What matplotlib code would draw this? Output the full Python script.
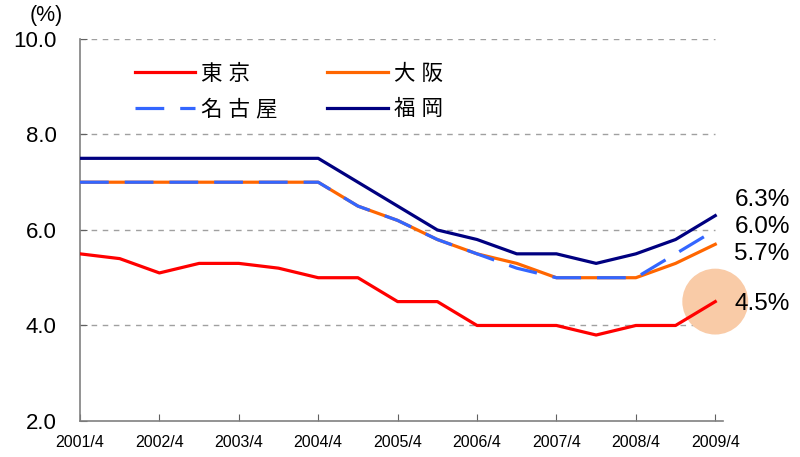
import matplotlib
matplotlib.use("Agg")
import matplotlib.pyplot as plt

plt.rcParams['font.family'] = ['Liberation Sans', 'Noto Sans CJK JP', 'DejaVu Sans']

# half-year points from 2001/4 to 2009/4
periods = list(range(17))
year_ticks = list(range(0, 17, 2))
year_labels = ['2001/4', '2002/4', '2003/4', '2004/4', '2005/4',
               '2006/4', '2007/4', '2008/4', '2009/4']

tokyo = [5.5, 5.4, 5.1, 5.3, 5.3, 5.2, 5.0, 5.0, 4.5, 4.5, 4.0, 4.0, 4.0, 3.8, 4.0, 4.0, 4.5]
osaka = [7.0, 7.0, 7.0, 7.0, 7.0, 7.0, 7.0, 6.5, 6.2, 5.8, 5.5, 5.3, 5.0, 5.0, 5.0, 5.3, 5.7]
nagoya = [7.0, 7.0, 7.0, 7.0, 7.0, 7.0, 7.0, 6.5, 6.2, 5.8, 5.5, 5.2, 5.0, 5.0, 5.0, 5.5, 6.0]
fukuoka = [7.5, 7.5, 7.5, 7.5, 7.5, 7.5, 7.5, 7.0, 6.5, 6.0, 5.8, 5.5, 5.5, 5.3, 5.5, 5.8, 6.3]

fig = plt.figure(figsize=(8, 4.57), dpi=100)
ax = fig.add_axes([0.1, 0.0788, 0.804, 0.836])

# dashed horizontal guides
for v in [4, 6, 8, 10]:
    ax.hlines(v, 0, 16, colors='#a0a0a0', linestyles=(0, (4, 4)), linewidth=1.0, zorder=1)

# highlight behind the last Tokyo value
ax.scatter([16], [tokyo[-1]], s=2250, color='#f9cba7', edgecolors='none',
           zorder=2, clip_on=False)

l_tokyo, = ax.plot(periods, tokyo, color='#ff0000', lw=2.3, zorder=4)
l_fukuoka, = ax.plot(periods, fukuoka, color='#000080', lw=2.3, zorder=4)
l_osaka, = ax.plot(periods, osaka, color='#ff6600', lw=2.3, zorder=3)
l_nagoya, = ax.plot(periods, nagoya, color='#3366ff', lw=2.3, dashes=(9, 5), zorder=3.5)

ax.legend([l_tokyo, l_nagoya, l_osaka, l_fukuoka], ['東 京', '名 古 屋', '大 阪', '福 岡'],
          ncol=2, frameon=False, fontsize=15.5, handlelength=2.8, handletextpad=0.3,
          columnspacing=2.3, labelspacing=0.68, borderpad=0, borderaxespad=0,
          loc='upper left', bbox_to_anchor=(0.085, 0.935))

last_labels = [(fukuoka[-1], 16), (nagoya[-1], 3), (osaka[-1], -10), (tokyo[-1], -2)]
for val, dy in last_labels:
    ax.annotate(f'{val:.1f}%', xy=(16, val), xytext=(19, dy), textcoords='offset pixels',
                ha='left', va='center', fontsize=17.5, annotation_clip=False)

ax.set_xlim(0, 16.2)
ax.set_ylim(2, 10)
ax.set_xticks(year_ticks)
ax.set_xticklabels(year_labels, fontsize=11.5)
ax.set_yticks([2, 4, 6, 8, 10])
ax.set_yticklabels(['2.0', '4.0', '6.0', '8.0', '10.0'], fontsize=16)
ax.tick_params(axis='both', direction='in', length=5, color='#606060')
ax.tick_params(axis='x', pad=10)
ax.tick_params(axis='y', pad=17)

for side in ['top', 'right']:
    ax.spines[side].set_visible(False)
for side in ['left', 'bottom']:
    ax.spines[side].set_color('#808080')
    ax.spines[side].set_linewidth(1.2)

fig.text(0.058, 0.965, '(%)', ha='center', va='center', fontsize=15.5)

fig.savefig('out.png', dpi=100)
